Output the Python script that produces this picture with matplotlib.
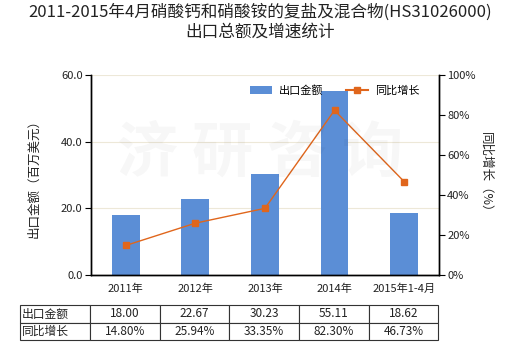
import matplotlib
matplotlib.use("Agg")
import matplotlib.pyplot as plt
from matplotlib.patches import Patch
from matplotlib.lines import Line2D

plt.rcParams['font.family'] = ['Noto Sans CJK SC', 'DejaVu Sans']

categories = ["2011年", "2012年", "2013年", "2014年", "2015年1-4月"]
export_values = [18.00, 22.67, 30.23, 55.11, 18.62]
growth_values = [14.80, 25.94, 33.35, 82.30, 46.73]
left_ticks = [0, 20, 40, 60]
right_ticks = [0, 20, 40, 60, 80, 100]

bar_color = "#5B8ED6"
line_color = "#E0661C"
text_color = "#222222"

fig = plt.figure(figsize=(5.2, 3.5), dpi=100)
ax = fig.add_axes([0.175, 0.214, 0.669, 0.572])
ax2 = ax.twinx()

x = list(range(len(categories)))
ax.bar(x, export_values, width=0.4, color=bar_color, zorder=2)
ax.set_xlim(-0.5, len(categories) - 0.5)
ax.set_ylim(0, 60)
ax.set_yticks(left_ticks)
ax.set_yticklabels([f"{v:.1f}" for v in left_ticks], fontsize=8, color=text_color)
ax.set_xticks(x)
ax.set_xticklabels(categories, fontsize=8, color=text_color)
ax.tick_params(axis='x', length=0, pad=6)
ax.tick_params(axis='y', length=4, width=0.8, pad=2)
ax.grid(axis='y', color="#EDE8D8", linewidth=0.8, zorder=0)
ax.set_axisbelow(True)

ax2.plot(x, growth_values, color=line_color, linewidth=1.0, marker='s',
         markersize=4, zorder=3)
ax2.set_ylim(0, 100)
ax2.set_yticks(right_ticks)
ax2.set_yticklabels([f"{v}%" for v in right_ticks], fontsize=8, color=text_color)
ax2.tick_params(axis='y', length=4, width=0.8, pad=2)

for a in (ax, ax2):
    a.spines['top'].set_visible(False)
    a.spines['left'].set_linewidth(1.0)
    a.spines['right'].set_linewidth(1.0)
    a.spines['bottom'].set_linewidth(1.0)

ax.set_ylabel("出口金额（百万美元）", fontsize=9, color=text_color, labelpad=15)
ax2.set_ylabel("同比增长（%）", fontsize=9, color=text_color, rotation=270, labelpad=12)

# faint watermark
fig.text(0.5, 0.56, "济 研 咨 询", fontsize=44, color="#000000", alpha=0.03,
         ha='center', va='center', fontweight='bold')

fig.suptitle("2011-2015年4月硝酸钙和硝酸铵的复盐及混合物(HS31026000)\n出口总额及增速统计",
             fontsize=12, color=text_color, y=0.99, linespacing=1.2)

handles = [Patch(facecolor=bar_color, edgecolor='none'),
           Line2D([0], [0], color=line_color, marker='s', markersize=4, linewidth=1.5)]
ax.legend(handles, ["出口金额", "同比增长"], loc='upper center', bbox_to_anchor=(0.70, 1.0),
          ncol=2, frameon=False, fontsize=8, handlelength=2.0, columnspacing=2.0,
          handletextpad=0.6)

# data table under the axes
rows = [["出口金额"] + [f"{v:.2f}" for v in export_values],
        ["同比增长"] + [f"{v:.2f}%" for v in growth_values]]
widths = [70, 70, 69, 70, 70, 69]
total = sum(widths)
tbl = ax.table(cellText=rows, colWidths=[w / total for w in widths],
               bbox=[-0.204, -0.325, 1.201, 0.175], cellLoc='center')
tbl.auto_set_font_size(False)
for (r, c), cell in tbl.get_celld().items():
    cell.set_linewidth(0.8)
    cell.set_edgecolor("#333333")
    cell.get_text().set_fontsize(8.5)
    cell.get_text().set_color(text_color)
    if c == 0:
        cell.get_text().set_ha('left')
        cell._loc = 'left'
        cell.PAD = 0.03

fig.savefig("out.png", dpi=100)
